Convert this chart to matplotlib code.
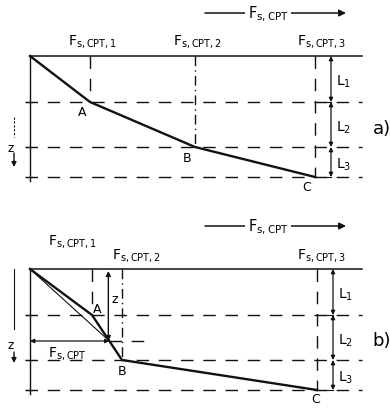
import matplotlib.pyplot as plt

plt.rcParams['font.family'] = 'DejaVu Sans'
plt.rcParams['mathtext.default'] = 'regular'

# sleeve friction Fs,CPT at the end of each layer (same drawing units as depth)
fs_a = [0, 60, 165, 285]
fs_b = [0, 62, 92, 287]
# layer boundaries: top, L1, L2, L3
z_layers = [0, 46, 91, 121]
# intermediate depth used in panel b
z_mid = 72
point_names = ['A', 'B', 'C']
fs_labels = [r'F$_{s,CPT,1}$', r'F$_{s,CPT,2}$', r'F$_{s,CPT,3}$']
layer_labels = [r'L$_1$', r'L$_2$', r'L$_3$']

fig = plt.figure(figsize=(3.9, 4.1), dpi=100)
ax_a = fig.add_axes([0, 0.5, 1, 0.5])
ax_b = fig.add_axes([0, 0, 1, 0.5])
ax_a.set_xlim(-30, 360)
ax_a.set_ylim(148, -57)
ax_b.set_xlim(-30, 360)
ax_b.set_ylim(140, -65)

dash = (0, (9, 7))
dashdot = (0, (7, 3, 1, 3))
k = '#111111'


def panel(ax, fs, tag, fs_label_pos):
    right = 332
    zt, z1, z2, z3 = z_layers
    # top line and left axis
    ax.plot([0, right], [zt, zt], color=k, lw=1.1)
    ax.plot([0, 0], [zt, z3 + 4], color=k, lw=1.0)
    for z in z_layers[1:]:
        ax.plot([-5, right], [z, z], color=k, lw=1.0, ls=dash)
        ax.plot([-4, 4], [z, z], color=k, lw=0.8)
    # verticals from each Fs value
    for i, f in enumerate(fs[1:]):
        ax.plot([f, f], [zt, z_layers[i + 1]], color=k, lw=1.0,
                ls=dashdot if i == 1 else dash)
        lx, ly = fs_label_pos[i]
        ax.text(lx, ly, fs_labels[i], fontsize=10, ha='center', va='bottom')
    # L brackets
    lx = fs[3] + 16
    ax.plot([fs[3], lx], [z1, z1], color=k, lw=0.8)
    ax.plot([fs[3], lx], [z3, z3], color=k, lw=0.8)
    for i in range(3):
        ax.annotate('', xy=(lx, z_layers[i]), xytext=(lx, z_layers[i + 1]),
                    arrowprops=dict(arrowstyle='<|-|>', color=k, lw=0.9,
                                    mutation_scale=6, shrinkA=0, shrinkB=0))
        ax.text(lx + 5, (z_layers[i] + z_layers[i + 1]) / 2 + 2, layer_labels[i],
                fontsize=10, ha='left', va='center')
    # header arrow
    ax.annotate('', xy=(316, -43), xytext=(175, -43),
                arrowprops=dict(arrowstyle='-|>', color=k, lw=1.1,
                                mutation_scale=10, shrinkA=0, shrinkB=0))
    ax.text(238, -43, r'F$_{s,CPT}$', fontsize=10.5, ha='center', va='center',
            bbox=dict(fc='white', ec='none', pad=2))
    ax.text(352, (z1 + z2) / 2 + 3, tag, fontsize=13, ha='center', va='center')
    ax.axis('off')


panel(ax_a, fs_a, 'a)', [(62, -7), (167, -7), (292, -7)])
panel(ax_b, fs_b, 'b)', [(42, -20), (106, -6), (292, -6)])

# panel a: friction line
ax_a.plot(fs_a, z_layers, color=k, lw=1.7)
for f, z, n in zip(fs_a[1:], z_layers[1:], point_names):
    ax_a.text(f - 8, z + 10, n, fontsize=9, ha='center', va='center')
ax_a.plot([-16, -16], [61, 81], color=k, lw=0.8, ls=(0, (2, 1.5)))
ax_a.text(-19, 91, 'z', fontsize=8.5, ha='center', va='center')
ax_a.annotate('', xy=(-16, 111), xytext=(-16, 97),
              arrowprops=dict(arrowstyle='-|>', color=k, lw=1.0,
                              mutation_scale=7, shrinkA=0, shrinkB=0))

# panel b: friction line with intermediate point
fm = fs_b[1] + (fs_b[2] - fs_b[1]) * (z_mid - z_layers[1]) / (z_layers[2] - z_layers[1])
ax_b.plot(fs_b, z_layers, color=k, lw=1.7)
ax_b.plot([0, fm], [0, z_mid], color=k, lw=0.8)
ax_b.plot([fm, 120], [z_mid, z_mid], color=k, lw=1.0, ls=dash)
ax_b.annotate('', xy=(fm - 1, 2), xytext=(fm - 1, z_mid),
              arrowprops=dict(arrowstyle='<|-|>', color=k, lw=1.0,
                              mutation_scale=7, shrinkA=0, shrinkB=0))
ax_b.text(fm + 5, 30, 'z', fontsize=9, ha='center', va='center')
ax_b.annotate('', xy=(0, z_mid), xytext=(fm, z_mid),
              arrowprops=dict(arrowstyle='<|-|>', color=k, lw=0.9,
                              mutation_scale=6, shrinkA=0, shrinkB=0))
ax_b.text(37, z_mid + 12, r'F$_{s,CPT}$', fontsize=10, ha='center', va='center')
ax_b.text(fs_b[1] + 5, z_layers[1] - 6, point_names[0], fontsize=9, ha='center', va='center')
ax_b.text(fs_b[2], z_layers[2] + 11, point_names[1], fontsize=9, ha='center', va='center')
ax_b.text(fs_b[3] - 1, z_layers[3] + 9, point_names[2], fontsize=9, ha='center', va='center')
ax_b.plot([-16, -16], [0, 60], color=k, lw=0.8)
ax_b.text(-19, 76, 'z', fontsize=8.5, ha='center', va='center')
ax_b.annotate('', xy=(-16, 94), xytext=(-16, 83),
              arrowprops=dict(arrowstyle='-|>', color=k, lw=1.0,
                              mutation_scale=7, shrinkA=0, shrinkB=0))

fig.savefig('out.png', dpi=100)
